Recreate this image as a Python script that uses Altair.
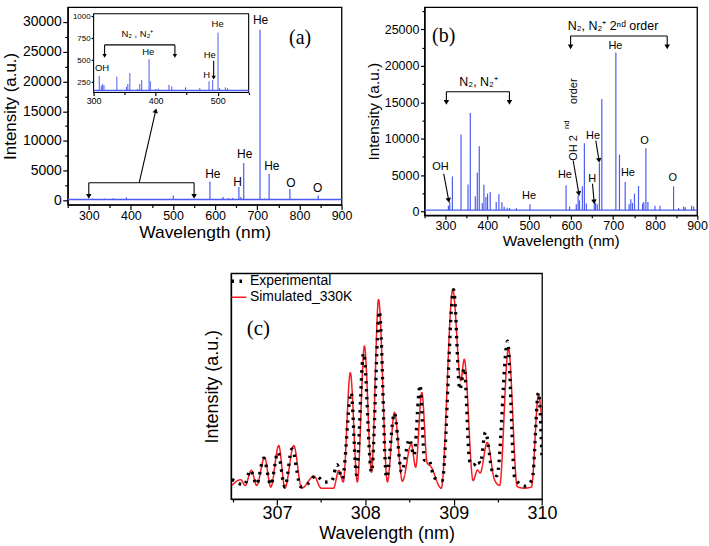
import altair as alt
import pandas as pd

SANS = "Liberation Sans"
SERIF = "Liberation Serif"
BLUE = "#4b5cf2"
RED = "#f41c24"

# ================= Panel (a) =================
# lines 300-550 nm (shown in the inset and, tiny, in the main panel)
ins_wl = [309.1, 312.4, 314.5, 316.7, 337.5, 353.0, 355.2, 358.4, 370.6, 374.4, 377.6,
          389.4, 391.5, 400.0, 404.3, 421.4, 426.0, 448.2, 471.2, 486.1, 492.0, 500.6,
          503.3, 512.4, 516.0]
ins_int = [321, 208, 227, 214, 310, 197, 227, 352, 171, 227, 273,
           510, 258, 171, 175, 216, 200, 190, 182, 258, 273, 812,
           182, 190, 180]
ins_base = 154
# lines above 550 nm in the main panel
a_wl = [587.6, 618.5, 632.0, 641.6, 656.3, 661.0, 667.8, 674.5, 706.5, 717.0, 728.1, 777.4, 844.6]
a_int = [3200, 590, 420, 420, 2263, 590, 6282, 250, 28716, 300, 4490, 1929, 808]
a_base = 154

a_lab_text = ["He", "H", "He", "He", "He", "O", "O"]
a_lab_x = [594.4, 653.4, 670.0, 707.8, 734.5, 779.5, 843.3]
a_lab_y = [4490, 3100, 7722, 30324, 5713, 2984, 2096]
a_tag = ["(a)", 801.6, 27377]
a_bracket = [300, 550, 2984, 690]                 # left, right, bar, tip
a_arrow = [419.7, 2984, 458.9, 15088, 13]        # from x,y  to x,y  head angle

ins_lab_text = ["N\u2082 , N\u2082\u207a", "OH", "He", "He", "He", "H"]
ins_lab_x = [370.6, 313.5, 388.2, 500.0, 487.2, 482.4]
ins_lab_y = [801, 408, 586, 906, 555, 333]
ins_bracket = [317.7, 431.1, 672, 547]
ins_arrow = [493.6, 491, 493.6, 300, 180]

# ================= Panel (b) =================
b_wl = [307.0, 310.1, 316.5, 337.1, 353.8, 359.2, 371.1, 375.9, 380.6, 387.7, 391.7, 396.5,
        400.4, 406.7, 421.0, 427.4, 434.5, 440.0, 447.1, 453.0, 469.0, 501.6,
        587.6, 596.0, 612.0, 616.4, 619.6, 626.5, 631.3, 636.0, 655.0, 658.0, 662.0,
        667.2, 672.9, 706.4, 715.0, 728.6, 738.0, 742.0, 746.0, 750.8, 760.4, 770.0,
        773.0, 778.0, 782.8, 799.6, 811.8, 844.0, 856.0, 868.0, 872.0, 887.0, 892.0]
b_int = [800, 1330, 4825, 10560, 3733, 13527, 2094, 5331, 8978, 1192, 3692, 2011,
         2462, 2694, 1329, 2367, 1283, 650, 520, 500, 480, 1001,
         3597, 700, 1000, 2230, 1547, 3460, 9388, 1100, 1100, 1200, 1000,
         6656, 15439, 21818, 7790, 4060, 1000, 1700, 1200, 2463, 3515, 1100,
         1300, 8705, 1300, 800, 800, 3460, 500, 700, 600, 800, 700]
b_base = 200

b_lab_text = ["OH", "He", "He", "He", "H", "He", "He", "O", "O"]
b_lab_x = [288.0, 499.4, 584.9, 652.1, 649.7, 705.3, 735.2, 774.9, 842.1]
b_lab_y = [6110, 2094, 4962, 10426, 4511, 22719, 5290, 9744, 4607]
b_rot_text = ["OH 2", "nd", "order"]
b_rot_x = [606.3, 589.2, 606.3]
b_rot_y = [6970, 11338, 14756]
b_rot_size = [11, 7.5, 11]
b_br_text = ["N\u2082, N\u2082\u207a", "N\u2082, N\u2082\u207a 2\u207f\u1d48 order"]
b_br_x = [379.0, 699.6]
b_br_y = [17720, 25451]
b_brackets = [[302.2, 452.6, 16436, 14988], [598.4, 828.8, 24085, 22583]]
b_arrows = [[295.8, 5194, 307.7, 1547, 169],
            [604.6, 7011, 618.1, 2464, 170],
            [658.5, 9744, 666.3, 7011, 171],
            [650.7, 3828, 654.5, 1328, 175]]
b_tag = ["(b)", 295.8, 24085]

# ================= Panel (c) =================
sim_x = [306.49, 306.59, 306.64, 306.71, 306.77, 306.86, 306.93, 307.02, 307.09, 307.19,
         307.28, 307.42, 307.50, 307.64, 307.70, 307.75, 307.83, 307.91, 307.99, 308.07,
         308.15, 308.25, 308.33, 308.42, 308.52, 308.57, 308.64, 308.70, 308.74, 308.86,
         308.99, 309.08, 309.12, 309.22, 309.27, 309.30, 309.38, 309.46, 309.52, 309.62,
         309.72, 309.80, 309.88, 309.96, 310.00]
sim_y = [6.0, 8.6, 6.0, 12.7, 6.0, 18.5, 5.3, 23.7, 4.8, 23.7,
         4.8, 10.2, 4.8, 4.8, 12.7, 7.6, 56.0, 7.6, 67.8, 11.9,
         88.4, 7.6, 38.4, 7.9, 24.4, 14.1, 47.2, 16.0, 14.5, 4.8,
         92.8, 52.4, 61.9, 8.2, 12.9, 11.5, 25.1, 8.8, 6.0, 66.8,
         5.5, 4.8, 5.3, 46.0, 34.0]
exp_x = [306.49, 306.56, 306.63, 306.70, 306.77, 306.85, 306.93, 307.01, 307.09, 307.17,
         307.27, 307.35, 307.44, 307.54, 307.62, 307.68, 307.74, 307.84, 307.90, 307.98,
         308.07, 308.16, 308.24, 308.33, 308.41, 308.50, 308.55, 308.62, 308.67, 308.72,
         308.78, 308.87, 309.00, 309.07, 309.12, 309.18, 309.22, 309.28, 309.30, 309.36,
         309.44, 309.49, 309.61, 309.69, 309.80, 309.89, 309.96, 310.00]
exp_y = [8.7, 7.0, 6.3, 12.7, 6.5, 18.1, 6.3, 20.7, 5.3, 22.2,
         5.5, 6.8, 10.4, 7.5, 8.0, 15.2, 9.0, 47.2, 10.8, 64.6,
         11.9, 83.2, 9.5, 38.1, 11.9, 26.6, 19.3, 50.5, 17.1, 17.1,
         9.5, 8.2, 92.8, 48.5, 58.0, 17.0, 14.9, 17.1, 15.6, 29.6,
         12.0, 10.3, 70.0, 9.7, 5.7, 8.7, 47.2, 18.0]
c_series = ["Experimental", "Simulated_330K"]
c_tag = ["(c)", 306.79, 75.3]


# ---------------- helpers ----------------
def tick_cond(step, big, small):
    return {"condition": {"test": f"datum.value % {step} === 0", "value": big}, "value": small}


def lab_expr(step):
    return f"datum.value % {step} === 0 ? format(datum.value, 'd') : ''"


def spectrum(wl, inten, base, xmin, xmax, X, Y, width=1.2):
    pk = pd.DataFrame({"x": wl, "y": [base] * len(wl), "y2": inten})
    bl = pd.DataFrame({"x": [xmin], "x2": [xmax], "y": [base]})
    return [
        alt.Chart(bl).mark_rule(color=BLUE, strokeWidth=1.4).encode(x=X, x2="x2:Q", y=Y),
        alt.Chart(pk).mark_rule(color=BLUE, strokeWidth=width).encode(x=X, y=Y, y2="y2:Q"),
    ]


def texts(t, xs, ys, X, Y, size, font=SANS, **kw):
    df = pd.DataFrame({"x": xs, "y": ys, "t": t})
    return alt.Chart(df).mark_text(font=font, fontSize=size, color="black",
                                   baseline="middle", **kw).encode(x=X, y=Y, text="t:N")


def arrows(brackets, arrs, X, Y, head=30):
    segs, heads = [], []
    for xl, xr, yb, yt in brackets:
        segs += [(xl, yb, xr, yb), (xl, yb, xl, yt), (xr, yb, xr, yt)]
        heads += [(xl, yt, 180), (xr, yt, 180)]
    for x1, y1, x2, y2, ang in arrs:
        segs.append((x1, y1, x2, y2))
        heads.append((x2, y2, ang))
    sdf = pd.DataFrame(segs, columns=["x", "y", "x2", "y2"])
    hdf = pd.DataFrame(heads, columns=["x", "y", "a"])
    return [
        alt.Chart(sdf).mark_rule(color="black", strokeWidth=1.1).encode(x=X, y=Y, x2="x2:Q", y2="y2:Q"),
        alt.Chart(hdf).mark_point(shape="triangle-up", filled=True, color="black", opacity=1,
                                  size=head).encode(x=X, y=Y, angle=alt.Angle("a:Q", scale=None)),
    ]


# ---------------- panel (a) ----------------
A_W, A_H = 275, 198.3
Xa = alt.X("x:Q", scale=alt.Scale(domain=[250, 900], nice=False, zero=False),
           axis=alt.Axis(title="Wavelength (nm)", values=list(range(250, 901, 50)),
                         labelExpr=lab_expr(100), tickSize=tick_cond(100, 5, 3),
                         labelFontSize=12.5, titleFontSize=17.5, labelPadding=0, titlePadding=2))
Ya = alt.Y("y:Q", scale=alt.Scale(domain=[-700, 32500], nice=False, zero=False),
           axis=alt.Axis(title="Intensity (a.u.)", values=list(range(0, 32001, 2500)),
                         labelExpr=lab_expr(5000), tickSize=tick_cond(5000, 5, 3),
                         labelFontSize=14, titleFontSize=17, labelPadding=1.5, titlePadding=3))

a_main = alt.layer(
    *spectrum(ins_wl + a_wl, ins_int + a_int, a_base, 250, 900, Xa, Ya),
    texts(a_lab_text, a_lab_x, a_lab_y, Xa, Ya, 12),
    texts([a_tag[0]], [a_tag[1]], [a_tag[2]], Xa, Ya, 20, font=SERIF),
    *arrows([a_bracket], [a_arrow], Xa, Ya),
)

Xi = alt.X("x:Q", scale=alt.Scale(domain=[300, 550], range=[26, 181.7], nice=False, zero=False),
           axis=alt.Axis(title=None, orient="bottom", offset=85.8 - A_H,
                         values=list(range(300, 551, 50)), labelExpr=lab_expr(100),
                         tickSize=tick_cond(100, 3, 2), labelFontSize=9, domain=False,
                         labelPadding=1))
Yi = alt.Y("y:Q", scale=alt.Scale(domain=[130, 1027], range=[85.8, 6.6], nice=False, zero=False),
           axis=alt.Axis(title=None, orient="left", offset=-26, values=[250, 500, 750, 1000],
                         format="d", tickSize=2.5, labelFontSize=8, domain=False, labelPadding=1))
ins_frame = pd.DataFrame({"x": [300], "x2": [550], "y": [130], "y2": [1027]})
a_inset = alt.layer(
    alt.Chart(ins_frame).mark_rect(fill="white", stroke="black", strokeWidth=1.1).encode(
        x=Xi, x2="x2:Q", y=Yi, y2="y2:Q"),
    *spectrum(ins_wl, ins_int, ins_base, 300, 550, Xi, Yi, width=1.0),
    texts(ins_lab_text, ins_lab_x, ins_lab_y, Xi, Yi, 9.5),
    *arrows([ins_bracket], [ins_arrow], Xi, Yi, head=20),
)
panel_a = alt.layer(a_main, a_inset).resolve_scale(x="independent", y="independent").properties(
    width=A_W, height=A_H)

# ---------------- panel (b) ----------------
B_W, B_H = 273.7, 209
Xb = alt.X("x:Q", scale=alt.Scale(domain=[250, 900], nice=False, zero=False),
           axis=alt.Axis(title="Wavelength (nm)", values=list(range(250, 901, 50)),
                         labelExpr=lab_expr(100), tickSize=tick_cond(100, 4, 2.5),
                         labelFontSize=12.5, titleFontSize=15.5, labelPadding=0, titlePadding=2))
Yb = alt.Y("y:Q", scale=alt.Scale(domain=[-500, 28046], nice=False, zero=False),
           axis=alt.Axis(title="Intensity (a.u.)", values=list(range(0, 27501, 2500)),
                         labelExpr=lab_expr(5000), tickSize=tick_cond(5000, 4, 2.5),
                         labelFontSize=12.5, titleFontSize=15.5, labelPadding=1.7, titlePadding=3))
rot_df = pd.DataFrame({"x": b_rot_x, "y": b_rot_y, "t": b_rot_text, "s": b_rot_size})
panel_b = alt.layer(
    *spectrum(b_wl, b_int, b_base, 250, 900, Xb, Yb),
    texts(b_lab_text, b_lab_x, b_lab_y, Xb, Yb, 11),
    texts(b_br_text, b_br_x, b_br_y, Xb, Yb, 12.5),
    texts([b_tag[0]], [b_tag[1]], [b_tag[2]], Xb, Yb, 20, font=SERIF),
    alt.Chart(rot_df).mark_text(font=SANS, color="black", angle=270, align="left",
                                baseline="middle").encode(
        x=Xb, y=Yb, text="t:N", size=alt.Size("s:Q", scale=None)),
    *arrows(b_brackets, b_arrows, Xb, Yb),
).properties(width=B_W, height=B_H)

# ---------------- panel (c) ----------------
C_W, C_H = 312.3, 226.7
Xc = alt.X("x:Q", scale=alt.Scale(domain=[306.48, 310.0], nice=False, zero=False),
           axis=alt.Axis(title="Wavelength (nm)", values=[306.5, 307, 307.5, 308, 308.5, 309, 309.5, 310],
                         labelExpr=lab_expr(1), tickSize=tick_cond(1, 6, 3),
                         labelFontSize=18, titleFontSize=18, labelPadding=0, titlePadding=2))
Yc = alt.Y("y:Q", scale=alt.Scale(domain=[0, 100], nice=False, zero=False),
           axis=alt.Axis(title="Intensity (a.u.)", labels=False, ticks=False,
                         titleFontSize=18, titlePadding=10))
leg = alt.Legend(title=None, orient="top-left", offset=1, padding=0, labelFont=SANS,
                 labelFontSize=14, labelOffset=4, rowPadding=2,
                 symbolType="M-1.5,0L1.5,0", symbolSize=100)
col = alt.Color("s:N", scale=alt.Scale(domain=c_series, range=["black", RED]), legend=leg)
dash = alt.StrokeDash("s:N", scale=alt.Scale(domain=c_series, range=[[2.5, 5.5], [1, 0]]), legend=leg)
swid = alt.StrokeWidth("s:N", scale=alt.Scale(type="ordinal", domain=c_series, range=[3.3, 1.5]),
                       legend=leg)
sim_df = pd.DataFrame({"x": sim_x, "y": sim_y, "s": c_series[1]})
exp_df = pd.DataFrame({"x": exp_x, "y": exp_y, "s": c_series[0]})
panel_c = alt.layer(
    alt.Chart(sim_df).mark_line(interpolate="monotone", clip=True).encode(
        x=Xc, y=Yc, color=col, strokeDash=dash, strokeWidth=swid),
    alt.Chart(exp_df).mark_line(interpolate="monotone", clip=True).encode(
        x=Xc, y=Yc, color=col, strokeDash=dash, strokeWidth=swid),
    texts([c_tag[0]], [c_tag[1]], [c_tag[2]], Xc, Yc, 21, font=SERIF),
).properties(width=C_W, height=C_H)

spacer = alt.Chart(pd.DataFrame({"x": [0]})).mark_point(opacity=0).encode(
    x=alt.X("x:Q", axis=None), y=alt.Y("x:Q", axis=None)
).properties(width=133.8, height=10, view=alt.ViewBackground(stroke="transparent"))

row1 = alt.hconcat(panel_a, panel_b, spacing=11.3)
row2 = alt.hconcat(spacer, panel_c, spacing=0).resolve_legend(
    color="independent", strokeDash="independent", strokeWidth="independent")
chart = alt.vconcat(row1, row2, spacing=22.3).resolve_legend(
    color="independent", strokeDash="independent", strokeWidth="independent"
).properties(
    padding={"left": 0, "top": 3, "right": 0, "bottom": 0}, background="white"
).configure_view(stroke="black", strokeWidth=1.3).configure_axis(
    labelFont=SANS, titleFont=SANS, titleFontWeight="normal", labelColor="black",
    titleColor="black", domainColor="black", tickColor="black", domainWidth=1.3,
    tickWidth=1.2, grid=False, labelFlush=False, labelOverlap=False
)

chart.save("out.html", embed_options={"renderer": "svg", "actions": False})
